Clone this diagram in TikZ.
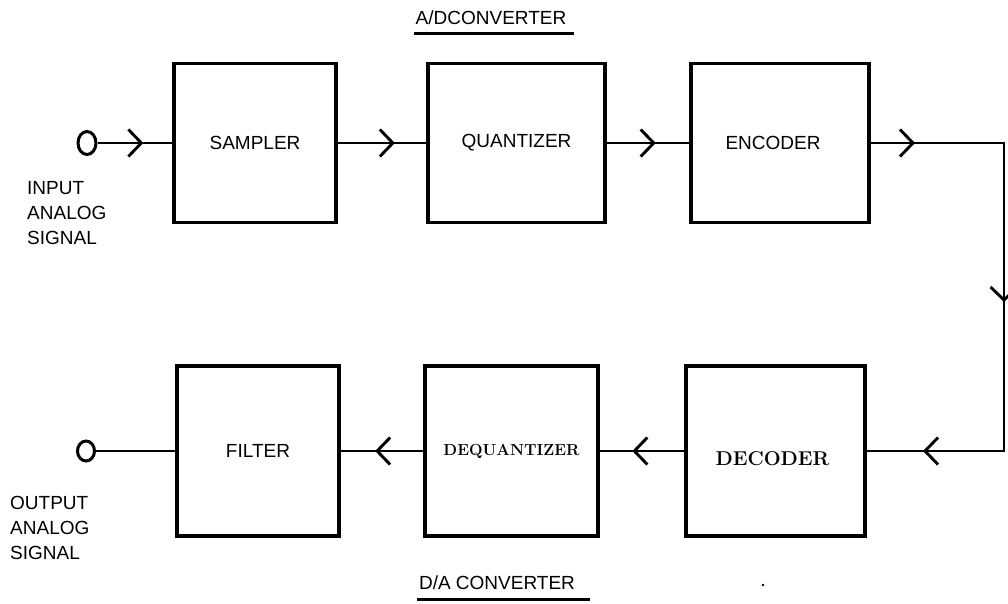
\documentclass[tikz,border=0pt]{standalone}
\usepackage{fontspec}
\newfontfamily\blkfont{Liberation Sans}
\usetikzlibrary{arrows.meta,positioning,shapes.geometric,decorations.markings}

\begin{document}
\begin{tikzpicture}[x=1pt, y=-1pt,
      blk/.style={draw, line width=3.1pt, inner sep=0pt, outer sep=0pt,
                  minimum height=159pt, font=\blkfont\fontsize{19}{25}\selectfont},
      port/.style={draw, ellipse, line width=3pt, inner sep=0pt,
                   minimum width=18pt, minimum height=23pt},
      txt/.style={font=\blkfont\fontsize{19}{25}\selectfont, inner sep=0pt, align=left},
      wire/.style={line width=2.9pt},
      chv/.tip={Straight Barb[length=13pt, width=27pt]},
      chev/.style={decoration={markings, mark=at position #1 with {\arrow{chv}}},
                   postaction={decorate}},
      uline/.style={line width=3pt}]
    \useasboundingbox (0,0) rectangle (1008,603);
    % A/D side
    \node[port] (inp) at (87,143) {};
    \node[blk, minimum width=162pt] (smp) at (255,143) {SAMPLER};
    \node[blk, minimum width=177pt, right=92pt of smp] (qnt) {QUANTIZER};
    \node[blk, minimum width=178pt, right=86pt of qnt] (enc) {\hspace*{-14pt}ENCODER};
    % D/A side
    \node[port, minimum width=17pt, minimum height=20pt] (outp) at (86,451) {};
    \node[blk, minimum width=162pt, minimum height=170pt] (flt) at (258,451) {FILTER};
    \node[blk, minimum width=173pt, minimum height=170pt, right=86pt of flt,
          font=\rmfamily\bfseries\fontsize{16}{20}\selectfont] (dqt) {DEQUANTIZER};
    \node[blk, minimum width=179pt, minimum height=170pt, right=88pt of dqt,
          text height=28pt, text depth=0pt,
          font=\rmfamily\bfseries\fontsize{20}{24}\selectfont] (dec) {DECODER\hspace*{6pt}};
    \coordinate (rt) at (1004,143);
    % signal path
    \draw[wire, chev=0.6] (inp) -- (smp);
    \draw[wire, chev=0.64] (smp) -- (qnt);
    \draw[wire, chev=0.59] (qnt) -- (enc);
    \draw[wire, decoration={markings,
            mark=at position 46pt with {\arrow{chv}},
            mark=at position 294pt with {\arrow{chv}},
            mark=at position 524pt with {\arrow{chv}}},
          postaction={decorate}] (enc) -- (rt) |- (dec);
    \draw[wire, chev=0.61] (dec) -- (dqt);
    \draw[wire, chev=0.58] (dqt) -- (flt);
    \draw[wire] (flt) -- (outp);
    % labels
    \node[txt, anchor=north west] (inlbl) at (27,181) {INPUT\\ANALOG\\SIGNAL};
    \node[txt, anchor=north west] (outlbl) at (10,496) {OUTPUT\\ANALOG\\SIGNAL};
    \node[txt] (adc) at (491,18) {A/DCONVERTER};
    \draw[uline] ([shift={(-1,8)}]adc.south west) -- ([shift={(7,8)}]adc.south east);
    \node[txt] (dac) at (497,583) {D/A CONVERTER};
    \draw[uline] ([shift={(-2,9)}]dac.south west) -- ([shift={(15,9)}]dac.south east);
    \fill (763,585) circle (1.3);
\end{tikzpicture}
\end{document}
